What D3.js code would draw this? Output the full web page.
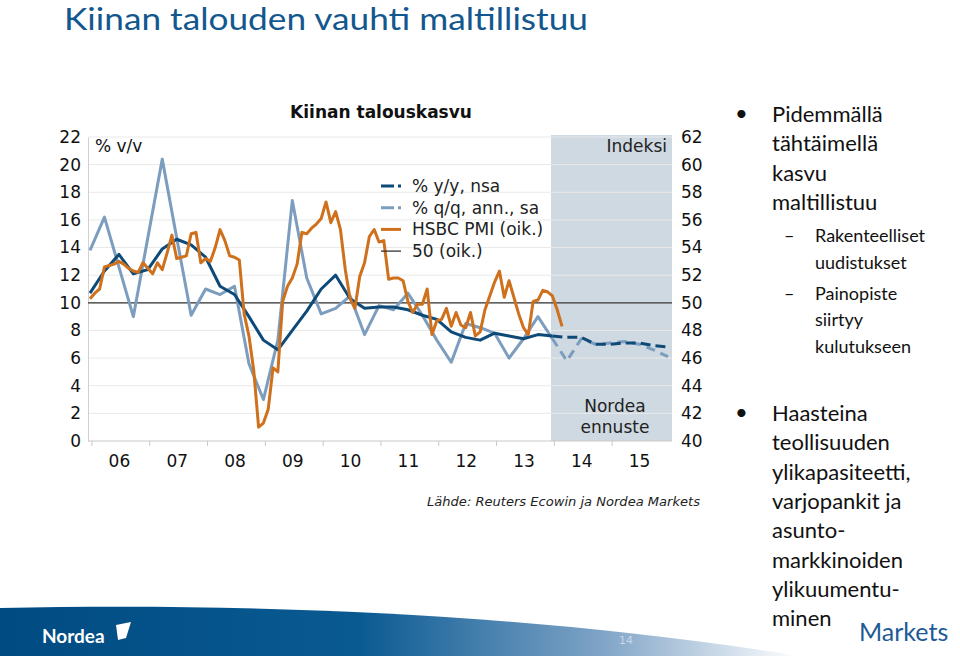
<!DOCTYPE html>
<html><head><meta charset="utf-8">
<script src="https://cdn.jsdelivr.net/npm/d3@7"></script>
<style>body{margin:0;background:#fff}svg{display:block}</style>
</head><body>
<svg id="c" width="960" height="658"></svg>
<script>
// ---- data ----
// quarterly points (index 0 = 2005Q4 end ... 40 = 2015Q4 end), month index = 3*i from Dec 2005
const gdpYY = [10.7,12.3,13.5,12.1,12.4,13.9,14.6,14.2,13.3,11.2,10.6,9.0,7.3,6.6,8.0,9.4,11.0,12.0,10.3,9.6,9.7,9.7,9.5,9.1,8.8,7.9,7.5,7.3,7.8,7.6,7.4,7.7,7.6,7.5,7.5,7.0,7.0,7.1,7.1,6.9,6.8];
const gdpQQ = [13.8,16.2,12.6,9.0,14.7,20.4,14.7,9.1,11.0,10.6,11.2,5.6,3.0,7.3,17.4,11.8,9.2,9.6,10.5,7.7,9.8,9.5,10.7,9.1,7.3,5.7,8.5,8.2,7.8,6.0,7.4,9.0,7.4,5.8,7.4,7.0,7.1,7.2,7.0,6.6,6.1];
const forecastFromIndex = 32;
// monthly HSBC PMI from Dec 2005
const pmi = [50.3,50.7,51.0,52.6,52.7,52.8,53.0,52.8,52.5,52.3,52.2,52.9,52.5,52.1,52.9,52.4,53.6,54.9,53.2,53.3,53.4,55.0,55.1,52.9,53.2,53.0,54.0,55.3,54.5,53.4,53.3,53.1,49.2,47.6,45.1,41.0,41.3,42.3,45.3,45.0,50.1,51.2,51.8,52.8,55.1,55.0,55.4,55.7,56.1,57.3,55.8,56.6,55.3,52.4,50.3,49.6,51.9,52.9,54.8,55.3,54.4,54.5,51.7,51.8,51.8,51.6,50.1,49.3,49.9,49.9,51.0,47.7,48.7,48.8,49.6,48.3,49.3,48.4,48.2,49.3,47.6,47.9,49.5,50.5,51.5,52.3,50.4,51.6,50.4,49.2,48.2,47.7,50.1,50.2,50.9,50.8,50.5,49.5,48.3];
const forecastStartMonth = 95.7;
const pmiRef = 50;
const leftTicks = [0,2,4,6,8,10,12,14,16,18,20,22];
const rightTicks = [40,42,44,46,48,50,52,54,56,58,60,62];
const yearLabels = ["06","07","08","09","10","11","12","13","14","15"];
const legendLabels = ["% y/y, nsa","% q/q, ann., sa","HSBC PMI (oik.)","50 (oik.)"];

const C = {yy:"#0d4a78", qq:"#7d9dbf", pmi:"#cf701c", shade:"#cfd9e1"};
const svg = d3.select("#c");
const font = "'DejaVu Sans', Verdana, sans-serif";

const x = d3.scaleLinear().domain([0,120]).range([90,668]);
const yL = d3.scaleLinear().domain([0,22]).range([441,137]);
const yR = d3.scaleLinear().domain([40,62]).range([441,137]);
const X0 = 88, X1 = 672;

// title
svg.append("text").attr("x",64).attr("y",30).attr("font-family","Lato, 'Open Sans', sans-serif")
  .attr("font-size",31).attr("fill","#13578f").attr("textLength",524).attr("lengthAdjust","spacingAndGlyphs")
  .text("Kiinan talouden vauhti maltillistuu");

// chart title
svg.append("text").attr("x",381).attr("y",118).attr("text-anchor","middle").attr("font-family",font)
  .attr("font-weight","bold").attr("font-size",17).attr("fill","#111").text("Kiinan talouskasvu");

// shaded forecast
svg.append("rect").attr("x",x(forecastStartMonth)).attr("y",135).attr("width",X1-x(forecastStartMonth)).attr("height",441-135).attr("fill",C.shade);

// gridlines
svg.append("g").selectAll("line").data(leftTicks.filter(d=>d>0)).join("line")
  .attr("x1",X0).attr("x2",X1).attr("y1",d=>yL(d)).attr("y2",d=>yL(d))
  .attr("stroke","#e9e9e9").attr("stroke-width",1);

// left axis
const gl = svg.append("g").attr("transform",`translate(${X0},0)`)
  .call(d3.axisLeft(yL).tickValues(leftTicks).tickSize(0).tickPadding(7));
gl.select(".domain").attr("stroke","#d0d0d0");
gl.selectAll("text").attr("font-family",font).attr("font-size",17).attr("fill","#111");

// right axis
const gr = svg.append("g").attr("transform",`translate(${X1+2},0)`)
  .call(d3.axisRight(yR).tickValues(rightTicks).tickSize(0).tickPadding(7));
gr.select(".domain").remove();
gr.selectAll("text").attr("font-family",font).attr("font-size",17).attr("fill","#111");

// bottom axis: boundary ticks
const gb = svg.append("g").attr("transform","translate(0,441)")
  .call(d3.axisBottom(x).tickValues(d3.range(0,10).map(k=>k*12+0.3)).tickSize(5).tickFormat(""));
gb.select(".domain").remove();
gb.selectAll("line").attr("stroke","#c8c8c8");
svg.append("line").attr("x1",X0).attr("x2",X1).attr("y1",441).attr("y2",441).attr("stroke","#c8c8c8");
const gy = svg.append("g").attr("transform","translate(0,441)")
  .call(d3.axisBottom(x).tickValues(yearLabels.map((d,k)=>k*12+6)).tickSize(0).tickPadding(14).tickFormat((d,k)=>yearLabels[k]));
gy.select(".domain").remove();
gy.selectAll("text").attr("font-family",font).attr("font-size",17).attr("fill","#111");

// 50 reference line
svg.append("line").attr("x1",X0).attr("x2",X1).attr("y1",yR(pmiRef)).attr("y2",yR(pmiRef)).attr("stroke","#333").attr("stroke-width",1.2);

// lines
const qLine = d3.line().x((d,i)=>x(d.m)).y(d=>yL(d.v));
const yyPts = gdpYY.map((v,i)=>({m:i*3,v}));
const qqPts = gdpQQ.map((v,i)=>({m:i*3,v}));
function draw(pts,color,dash){
  svg.append("path").attr("d",qLine(pts)).attr("fill","none").attr("stroke",color).attr("stroke-width",3)
    .attr("stroke-linejoin","round").attr("stroke-dasharray",dash||null);
}
draw(qqPts.slice(0,forecastFromIndex+1),C.qq);
draw(qqPts.slice(forecastFromIndex),C.qq,"9,6");
draw(yyPts.slice(0,forecastFromIndex+1),C.yy);
draw(yyPts.slice(forecastFromIndex),C.yy,"10,5");
const pLine = d3.line().x((d,i)=>x(i)).y(d=>yR(d));
svg.append("path").attr("d",pLine(pmi)).attr("fill","none").attr("stroke",C.pmi).attr("stroke-width",3).attr("stroke-linejoin","round");

// labels in plot
svg.append("text").attr("x",95).attr("y",152).attr("font-family",font).attr("font-size",17).attr("fill","#111").text("% v/v");
svg.append("text").attr("x",667).attr("y",152).attr("text-anchor","end").attr("font-family",font).attr("font-size",17).attr("fill","#222").text("Indeksi");
svg.append("text").attr("x",615).attr("y",412).attr("text-anchor","middle").attr("font-family",font).attr("font-size",17).attr("fill","#222").text("Nordea");
svg.append("text").attr("x",615).attr("y",433).attr("text-anchor","middle").attr("font-family",font).attr("font-size",17).attr("fill","#222").text("ennuste");

// legend
const lg = svg.append("g").attr("transform","translate(380,186)");
const lstyles = [{c:C.yy,w:3,d:"13,4,3,20"},{c:C.qq,w:3,d:"13,4,3,20"},{c:C.pmi,w:3,d:null},{c:"#222",w:1.2,d:null}];
legendLabels.forEach((t,i)=>{
  const gy2 = i*21.7;
  lg.append("line").attr("x1",1).attr("x2",21).attr("y1",gy2).attr("y2",gy2).attr("stroke",lstyles[i].c)
    .attr("stroke-width",lstyles[i].w).attr("stroke-dasharray",lstyles[i].d);
  lg.append("text").attr("x",32).attr("y",gy2+6).attr("font-family",font).attr("font-size",17).attr("fill","#222").text(t);
});

// source
svg.append("text").attr("x",427).attr("y",506).attr("font-family",font).attr("font-style","italic").attr("font-size",13).attr("fill","#222")
  .attr("textLength",273).attr("lengthAdjust","spacingAndGlyphs").text("Lähde: Reuters Ecowin ja Nordea Markets");

// right text
const rf = "Lato, 'Open Sans', sans-serif";
function rt(xp,yp,t,s){svg.append("text").attr("x",xp).attr("y",yp).attr("font-family",rf).attr("font-size",s).attr("fill","#111").text(t);}
rt(735,121,"•",22);
["Pidemmällä","tähtäimellä","kasvu","maltillistuu"].forEach((t,i)=>rt(772,122+i*29.3,t,22));
rt(784,242,"–",18); rt(815,242,"Rakenteelliset",18); rt(815,269,"uudistukset",18);
rt(784,300,"–",18); rt(815,300,"Painopiste",18); rt(815,326,"siirtyy",18); rt(815,353,"kulutukseen",18);
rt(735,420,"•",22);
["Haasteina","teollisuuden","ylikapasiteetti,","varjopankit ja","asunto-","markkinoiden","ylikuumentu-","minen"].forEach((t,i)=>rt(772,421+i*29.3,t,22));

// footer swoosh
const defs = svg.append("defs");
const gr2 = defs.append("linearGradient").attr("id","sw").attr("x1","0").attr("x2","1").attr("y1","0").attr("y2","0");
[[0,"#004b82"],[0.45,"#0a5a92"],[0.75,"#7ea3c6"],[1,"#ffffff"]].forEach(s=>gr2.append("stop").attr("offset",s[0]).attr("stop-color",s[1]));
svg.append("path").attr("d","M0,608 C250,603 520,612 800,656 L0,656 Z").attr("fill","url(#sw)");
svg.append("text").attr("x",42).attr("y",643).attr("font-family","Lato, sans-serif").attr("font-size",19).attr("font-weight","bold").attr("fill","#fff").text("Nordea");
svg.append("path").attr("d","M116,625 L131,622 L126,638 L118,640 Z").attr("fill","#fff");
svg.append("text").attr("x",626).attr("y",644).attr("text-anchor","middle").attr("font-family",font).attr("font-size",11).attr("fill","#c9d8e6").text("14");
svg.append("text").attr("x",859).attr("y",641).attr("font-family","Lato, sans-serif").attr("font-size",25).attr("fill","#1d5a96").text("Markets");
</script>
</body></html>
